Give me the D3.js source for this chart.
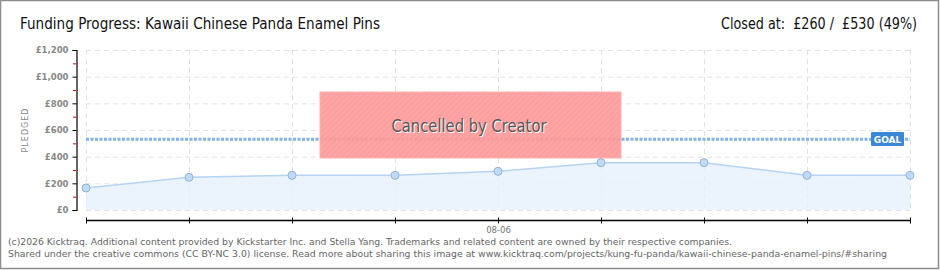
<!DOCTYPE html>
<html><head><meta charset="utf-8">
<script src="https://cdn.jsdelivr.net/npm/d3@7"></script>
<style>
html,body{margin:0;padding:0;background:#fff;}
svg{display:block;}
</style></head>
<body>
<svg id="c" width="940" height="270"></svg>
<script>
const dates = ["08-02","08-03","08-04","08-05","08-06","08-07","08-08","08-09","08-10"];
const pledged = [165, 245, 260, 260, 290, 355, 355, 260, 260];
const goal = 530;
const yTicks = [0, 200, 400, 600, 800, 1000, 1200];
const yMinorTicks = [100, 300, 500, 700, 900, 1100];
const xLabels = ["08-06"];
const titleText = "Funding Progress: Kawaii Chinese Panda Enamel Pins";
const closedText = "Closed at:  £260 /  £530 (49%)";
const footer = [
  "(c)2026 Kicktraq. Additional content provided by Kickstarter Inc. and Stella Yang. Trademarks and related content are owned by their respective companies.",
  "Shared under the creative commons (CC BY-NC 3.0) license. Read more about sharing this image at www.kicktraq.com/projects/kung-fu-panda/kawaii-chinese-panda-enamel-pins/#sharing"
];

const svg = d3.select("#c");
const W = 940, H = 270;

// border
svg.append("rect").attr("x",0.5).attr("y",0.5).attr("width",W-2).attr("height",H-2)
  .attr("fill","#fff").attr("stroke","#8c8c8c").attr("stroke-width",1.5);

const defs = svg.append("defs");
const pat = defs.append("pattern").attr("id","stripes").attr("patternUnits","userSpaceOnUse")
  .attr("width",4).attr("height",4).attr("patternTransform","rotate(45)");
pat.append("rect").attr("width",4).attr("height",4).attr("fill","#ff9c9c");
pat.append("line").attr("x1",0).attr("y1",0).attr("x2",0).attr("y2",4).attr("stroke","#f59090").attr("stroke-width",1.5);

const x = d3.scalePoint().domain(dates).range([86, 910]);
const y = d3.scaleLinear().domain([0, 1200]).range([210, 50]);

// title
svg.append("text").attr("x",20).attr("y",29).text(titleText)
  .attr("font-family","'DejaVu Sans Condensed', 'DejaVu Sans'").attr("font-size",15).attr("fill","#111")
  .attr("textLength",360).attr("lengthAdjust","spacingAndGlyphs");
svg.append("text").attr("x",917).attr("y",29).attr("text-anchor","end").text(closedText)
  .attr("font-family","'DejaVu Sans Condensed', 'DejaVu Sans'").attr("font-size",15).attr("fill","#111")
  .attr("textLength",196).attr("lengthAdjust","spacingAndGlyphs").attr("xml:space","preserve").style("white-space","pre");

// grid
const g = svg.append("g");
g.selectAll("line.h").data(yTicks).join("line")
  .attr("x1",86).attr("x2",910).attr("y1",d=>y(d)+0.5).attr("y2",d=>y(d)+0.5)
  .attr("stroke","#e2e2e2").attr("stroke-dasharray","5,4");
g.selectAll("line.v").data(dates).join("line")
  .attr("x1",d=>x(d)+0.5).attr("x2",d=>x(d)+0.5).attr("y1",50).attr("y2",210)
  .attr("stroke","#e2e2e2").attr("stroke-dasharray","5,4");

// area
const area = d3.area().x((d,i)=>x(dates[i])).y0(y(0)).y1(d=>y(d));
svg.append("path").datum(pledged).attr("d",area).attr("fill","#e6f0fb").attr("fill-opacity",0.8);
const line = d3.line().x((d,i)=>x(dates[i])).y(d=>y(d));
svg.append("path").datum(pledged).attr("d",line).attr("fill","none").attr("stroke","#b5d3f3").attr("stroke-width",1.5);

// goal line
svg.append("line").attr("x1",86).attr("x2",910).attr("y1",y(goal)).attr("y2",y(goal))
  .attr("stroke","#7fb2e8").attr("stroke-width",3).attr("stroke-dasharray","3,1.5");

// cancelled box
const bx = 320, bw = 301, byTop = 92, bh = 66;
svg.append("rect").attr("x",bx).attr("y",byTop).attr("width",bw).attr("height",bh)
  .attr("fill","url(#stripes)").attr("fill-opacity",0.92).attr("stroke","#ffb0b0").attr("stroke-width",1);
svg.append("text").attr("x",469).attr("y",132).attr("text-anchor","middle")
  .text("Cancelled by Creator").attr("font-family","'DejaVu Sans Condensed', 'DejaVu Sans'")
  .attr("font-size",17).attr("fill","#fff").attr("textLength",155).attr("lengthAdjust","spacingAndGlyphs")
  .attr("transform","translate(1,1)");
svg.append("text").attr("x",469).attr("y",132).attr("text-anchor","middle")
  .text("Cancelled by Creator").attr("font-family","'DejaVu Sans Condensed', 'DejaVu Sans'")
  .attr("font-size",17).attr("fill","#555").attr("textLength",155).attr("lengthAdjust","spacingAndGlyphs");

// points
svg.selectAll("circle.p").data(pledged).join("circle")
  .attr("cx",(d,i)=>x(dates[i])).attr("cy",d=>y(d)).attr("r",4)
  .attr("fill","#c0dbf7").attr("stroke","#93b2d6").attr("stroke-width",1);

// goal label
svg.append("rect").attr("x",871).attr("y",132).attr("width",33).attr("height",14).attr("rx",1)
  .attr("fill","#3a87d6");
svg.append("text").attr("x",887.5).attr("y",143).attr("text-anchor","middle").text("GOAL")
  .attr("font-family","'DejaVu Sans'").attr("font-size",9).attr("font-weight","bold").attr("fill","#fff");

// y axis
const yAxis = d3.axisLeft(y).tickValues(yTicks).tickSize(4).tickPadding(4)
  .tickFormat(d=>"£"+d3.format(",")(d));
const ya = svg.append("g").attr("transform","translate(76.5,0)").call(yAxis);
ya.select(".domain").attr("stroke","#000").attr("stroke-width",1.2);
ya.selectAll(".tick line").attr("stroke","#000");
ya.selectAll(".tick text").attr("font-family","'DejaVu Sans'").attr("font-size",8.5)
  .attr("font-weight","bold").attr("fill","#888");
svg.append("g").selectAll("line").data(yMinorTicks).join("line")
  .attr("x1",73).attr("x2",76).attr("y1",d=>y(d)+0.5).attr("y2",d=>y(d)+0.5)
  .attr("stroke","#e00000").attr("stroke-width",1);
svg.append("text").attr("transform","translate(28,130) rotate(-90)").attr("text-anchor","middle")
  .text("PLEDGED").attr("font-family","'DejaVu Sans'").attr("font-size",8).attr("fill","#888")
  .attr("letter-spacing",1);

// x axis
const xAxis = d3.axisBottom(x).tickSize(0).tickPadding(6).tickFormat(d=>xLabels.includes(d)?d:"");
const xa = svg.append("g").attr("transform","translate(0,220.5)").call(xAxis);
xa.select(".domain").remove();
xa.append("line").attr("x1",86).attr("x2",910).attr("stroke","#000").attr("stroke-width",1.5);
xa.selectAll(".tick").append("line").attr("y1",-3).attr("y2",3).attr("stroke","#000");
xa.selectAll(".tick text").attr("font-family","'DejaVu Sans'").attr("font-size",8.5).attr("fill","#777");

// footer
svg.selectAll("text.f").data(footer).join("text")
  .attr("x",8).attr("y",(d,i)=>245+i*12).text(d=>d)
  .attr("font-family","'DejaVu Sans'").attr("font-size",8.5).attr("fill","#666")
  .attr("textLength",(d,i)=>i===0?724:879).attr("lengthAdjust","spacingAndGlyphs");
</script>
</body></html>
